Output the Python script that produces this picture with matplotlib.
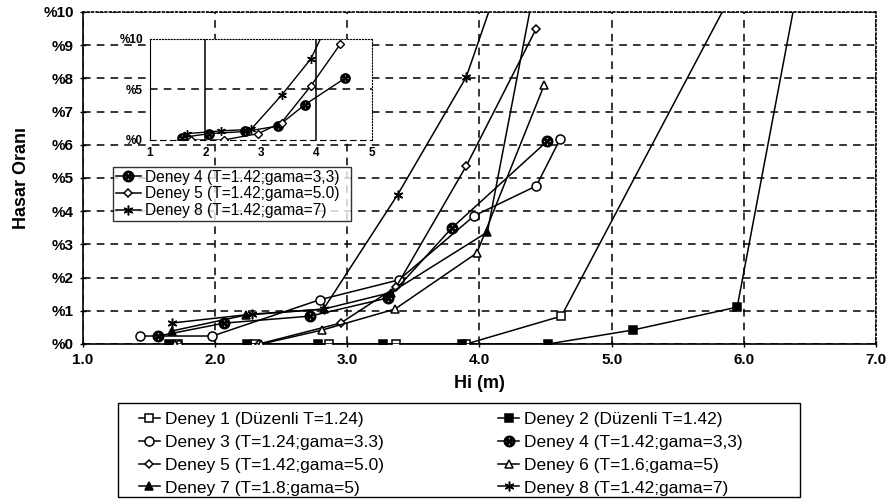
import matplotlib
matplotlib.use("Agg")
import matplotlib.pyplot as plt
from matplotlib.patches import Rectangle

plt.rcParams['font.family'] = ['Liberation Sans', 'DejaVu Sans']

# Hi (m) and damage ratio (%)
d1_x = [1.72, 2.30, 2.86, 3.37, 3.90, 4.62, 5.97]
d1_y = [0.0, 0.0, 0.0, 0.0, 0.0, 0.84, 11.0]
d2_x = [1.65, 2.24, 2.78, 3.27, 3.87, 4.52, 5.16, 5.95, 6.42]
d2_y = [0.0, 0.0, 0.0, 0.0, 0.0, 0.0, 0.42, 1.11, 11.0]
d3_x = [1.43, 1.98, 2.79, 3.39, 3.96, 4.43, 4.61]
d3_y = [0.24, 0.24, 1.33, 1.93, 3.86, 4.76, 6.17]
d4_x = [1.57, 2.07, 2.72, 3.31, 3.79, 4.51]
d4_y = [0.24, 0.63, 0.84, 1.39, 3.49, 6.10]
d5_x = [1.73, 2.33, 2.95, 3.37, 3.90, 4.43]
d5_y = [0.0, 0.0, 0.63, 1.72, 5.36, 9.50]
d6_x = [1.70, 2.35, 2.81, 3.36, 3.98, 4.49]
d6_y = [0.0, 0.0, 0.42, 1.05, 2.74, 7.80]
d7_x = [1.67, 2.23, 2.82, 3.33, 4.06, 4.45]
d7_y = [0.39, 0.87, 1.05, 1.55, 3.37, 11.45]
d8_x = [1.67, 2.28, 2.82, 3.38, 3.90, 4.20]
d8_y = [0.63, 0.90, 1.05, 4.49, 8.04, 11.5]

labels = ["Deney 1 (Düzenli T=1.24)", "Deney 2 (Düzenli T=1.42)",
          "Deney 3 (T=1.24;gama=3.3)", "Deney 4 (T=1.42;gama=3,3)",
          "Deney 5 (T=1.42;gama=5.0)", "Deney 6 (T=1.6;gama=5)",
          "Deney 7 (T=1.8;gama=5)", "Deney 8 (T=1.42;gama=7)"]

xs = [d1_x, d2_x, d3_x, d4_x, d5_x, d6_x, d7_x, d8_x]
ys = [d1_y, d2_y, d3_y, d4_y, d5_y, d6_y, d7_y, d8_y]

# marker, size, face colour
styles = [('s', 5.5, 'white'), ('s', 5.5, 'black'), ('o', 6.5, 'white'),
          (r'$\otimes$', 7.5, 'black'), ('D', 4.5, 'white'), ('^', 5.5, 'white'),
          ('^', 5.5, 'black'), ((6, 2, 0), 7, 'black')]

fig = plt.figure(figsize=(8.95, 5.01), dpi=100)
ax = fig.add_axes([0.0927, 0.3134, 0.886, 0.6627])

handles = []
for x, y, lab, (m, ms, fc) in zip(xs, ys, labels, styles):
    h, = ax.plot(x, y, color='black', lw=1.1, marker=m, ms=ms,
                 mfc=fc, mec='black', mew=1.1, label=lab, zorder=3)
    handles.append(h)

ax.set_xlim(1, 7)
ax.set_ylim(0, 10)
ax.set_xticks(range(1, 8))
ax.set_xticklabels([f"{v:.1f}" for v in range(1, 8)])
ax.set_yticks(range(0, 11))
ax.set_yticklabels([f"%{v}" for v in range(0, 11)])
for lbl in ax.get_xticklabels() + ax.get_yticklabels():
    lbl.set_fontweight('bold')
    lbl.set_fontsize(11)
ax.tick_params(direction='inout', length=5, width=1, pad=4)
ax.grid(True, color='black', linestyle=(0, (5, 4)), lw=1.1, zorder=1)
ax.spines['top'].set_linestyle(':')
ax.spines['right'].set_linestyle(':')
for s in ax.spines.values():
    s.set_linewidth(1.2)
ax.set_xlabel("Hi (m)", fontsize=13, fontweight='bold', labelpad=6)
ax.set_ylabel("Hasar Oranı", fontsize=13, fontweight='bold', labelpad=10)

# inset with the three series
ins = fig.add_axes([0.1676, 0.7206, 0.248, 0.2016])
ins.set_facecolor('white')
ins.set_zorder(5)
for i in (3, 4, 7):
    m, ms, fc = styles[i]
    ins.plot(xs[i], ys[i], color='black', lw=1.0, marker=m, ms=ms * 0.9,
             mfc=fc, mec='black', mew=1.0, zorder=3)
ins.set_xlim(1, 5)
ins.set_ylim(0, 10)
ins.set_xticks([1, 2, 3, 4, 5])
ins.set_yticks([0, 5, 10])
ins.set_yticklabels(["%0", "%5", "%10"])
for lbl in ins.get_xticklabels() + ins.get_yticklabels():
    lbl.set_fontweight('bold')
    lbl.set_fontsize(8.5)
ins.tick_params(length=0, pad=5)
for v in (2, 4):
    ins.axvline(v, color='black', lw=1.1, zorder=1)
ins.axhline(5, color='black', lw=1.1, linestyle=(0, (5, 4)), zorder=1)
ins.spines['top'].set_linestyle(':')
ins.spines['right'].set_linestyle(':')
ins.spines['bottom'].set_linestyle((0, (5, 4)))

leg_in = fig.legend([handles[3], handles[4], handles[7]],
                    [labels[3], labels[4], labels[7]],
                    loc='upper left', bbox_to_anchor=(0.126, 0.555, 0.266, 0.112),
                    mode='expand', fontsize=11.2, frameon=True, fancybox=False,
                    edgecolor='black', borderpad=0.2, labelspacing=0.1,
                    handlelength=1.6, handletextpad=0.3, borderaxespad=0)
leg_in.get_frame().set_linewidth(1.0)
leg_in.set_zorder(6)

# bottom legend: frame drawn as a figure rectangle
fig.patches.append(Rectangle((0.1318, 0.008), 0.762, 0.1876, transform=fig.transFigure,
                             fill=False, edgecolor='black', lw=1.0))
order = [0, 2, 4, 6, 1, 3, 5, 7]
leg = fig.legend([handles[i] for i in order], [labels[i] for i in order],
                 ncol=2, loc='upper left', bbox_to_anchor=(0.155, 1 - 412 / 501),
                 fontsize=12.5, frameon=False, borderpad=0, labelspacing=0.44,
                 handlelength=1.2, handletextpad=0.3, borderaxespad=0,
                 columnspacing=6.6)

fig.savefig("out.png", dpi=100)
